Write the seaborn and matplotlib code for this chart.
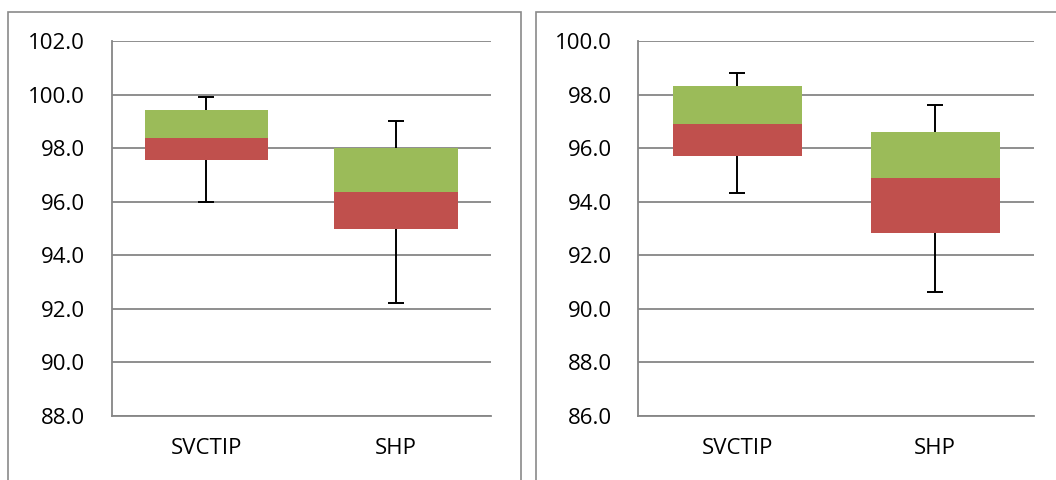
import matplotlib
matplotlib.use("Agg")
import matplotlib.pyplot as plt
from matplotlib.patches import Rectangle
import seaborn as sns
import pandas as pd
import numpy as np

categories = ["SVCTIP", "SHP"]

# Left panel
left_min = [96.0, 92.2]
left_q1 = [97.57, 94.96]
left_med = [98.39, 96.37]
left_q3 = [99.42, 97.99]
left_max = [99.9, 99.02]
left_ticks = [88.0, 90.0, 92.0, 94.0, 96.0, 98.0, 100.0, 102.0]

# Right panel
right_min = [94.31, 90.61]
right_q1 = [95.69, 92.83]
right_med = [96.9, 94.87]
right_q3 = [98.32, 96.6]
right_max = [98.8, 97.6]
right_ticks = [86.0, 88.0, 90.0, 92.0, 94.0, 96.0, 98.0, 100.0]

GREEN = "#9BBB59"
RED = "#C0504D"
GRID = "#868686"

sns.set_theme(style="white")
plt.rcParams["font.family"] = ["Open Sans", "DejaVu Sans"]

W, H = 1056, 480
fig = plt.figure(figsize=(W / 100, H / 100), dpi=100)
fig.patch.set_facecolor("white")


def frame(x0, y0, x1, y1):
    r = Rectangle((x0 / W, 1 - y1 / H), (x1 - x0) / W, (y1 - y0) / H,
                  transform=fig.transFigure, fill=False, edgecolor="#8a8a8a",
                  linewidth=1.2, zorder=0)
    fig.patches.append(r)


frame(8, 12, 520.5, 500)
frame(535.5, 12, 1100, 500)


def draw(ax, mn, q1, med, q3, mx, ticks):
    df_red = pd.DataFrame({"cat": categories,
                           "h": np.array(med) - np.array(q1)})
    df_green = pd.DataFrame({"cat": categories,
                             "h": np.array(q3) - np.array(med)})
    sns.barplot(data=df_red, x="cat", y="h", bottom=q1, color=RED,
                saturation=1, width=0.65, ax=ax, zorder=3, linewidth=0,
                errorbar=None)
    sns.barplot(data=df_green, x="cat", y="h", bottom=med, color=GREEN,
                saturation=1, width=0.65, ax=ax, zorder=3, linewidth=0,
                errorbar=None)
    x = np.arange(len(categories))
    up = np.array(mx) - np.array(q3)
    down = np.array(q1) - np.array(mn)
    ax.errorbar(x, q3, yerr=[np.zeros_like(up), up], fmt="none",
                ecolor="black", elinewidth=1.4, capsize=0, zorder=2)
    ax.errorbar(x, q1, yerr=[down, np.zeros_like(down)], fmt="none",
                ecolor="black", elinewidth=1.4, capsize=0, zorder=2)
    ax.plot(x, mx, ls="none", marker="_", ms=11, mew=1.4, color="black", zorder=2)
    ax.plot(x, mn, ls="none", marker="_", ms=11, mew=1.4, color="black", zorder=2)
    ax.set_ylim(ticks[0], ticks[-1])
    ax.set_yticks(ticks)
    ax.set_yticklabels([f"{t:.1f}" for t in ticks])
    ax.set_xlim(-0.5, 1.5)
    ax.set_xlabel("")
    ax.set_ylabel("")
    ax.yaxis.grid(True, color=GRID, linewidth=1.3, zorder=0)
    ax.xaxis.grid(False)
    ax.set_axisbelow(True)
    for s in ["top", "right"]:
        ax.spines[s].set_visible(False)
    for s in ["left", "bottom"]:
        ax.spines[s].set_color(GRID)
        ax.spines[s].set_linewidth(1.3)
    ax.tick_params(axis="y", length=0, pad=19, labelsize=16, labelcolor="black")
    ax.tick_params(axis="x", length=0, pad=16, labelsize=16, labelcolor="black")
    ax.set_facecolor("none")


ax1 = fig.add_axes([111.7 / W, 1 - 415.7 / H, (490.7 - 111.7) / W, (415.7 - 41) / H])
ax2 = fig.add_axes([638.3 / W, 1 - 415.7 / H, (1034.2 - 638.3) / W, (415.7 - 41) / H])

draw(ax1, left_min, left_q1, left_med, left_q3, left_max, left_ticks)
draw(ax2, right_min, right_q1, right_med, right_q3, right_max, right_ticks)

fig.savefig("out.png", dpi=100, facecolor="white")
